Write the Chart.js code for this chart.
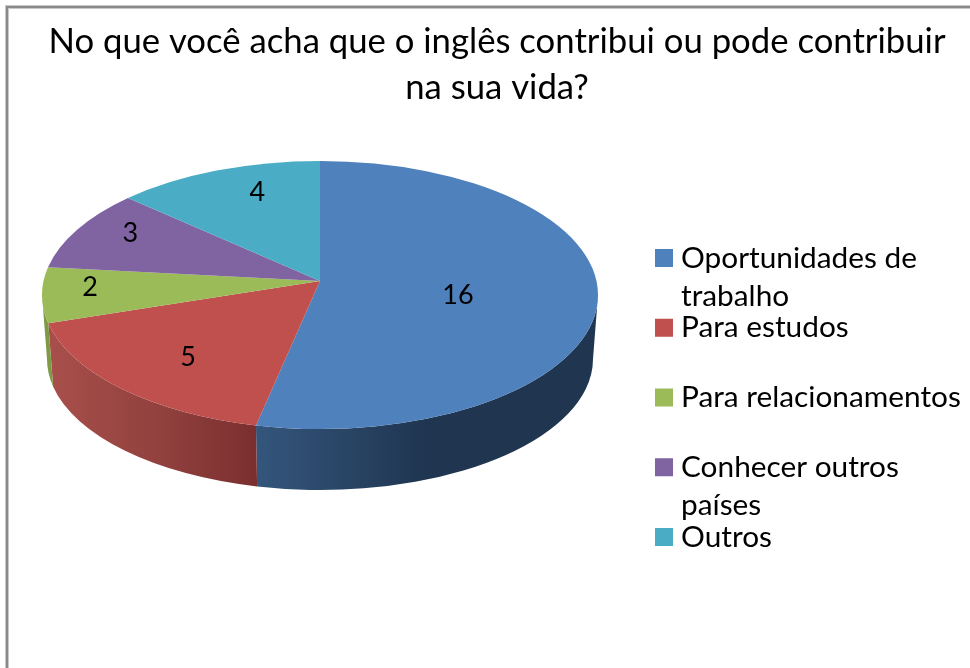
<!DOCTYPE html>
<html><head><meta charset="utf-8">
<style>html,body{margin:0;padding:0;background:#fff;overflow:hidden}canvas{display:block}</style>
<script src="https://cdn.jsdelivr.net/npm/chart.js@4/dist/chart.umd.min.js"></script>
</head><body><canvas id="c" width="970" height="668"></canvas>
<script>
const titleLines = ["No que você acha que o inglês contribui ou pode contribuir", "na sua vida?"];
const categories = [["Oportunidades de", "trabalho"], ["Para estudos"], ["Para relacionamentos"], ["Conhecer outros", "países"], ["Outros"]];
const values = [16, 5, 2, 3, 4];
const colors = ["#4F81BD", "#C0504D", "#9BBB59", "#8064A2", "#4BACC6"];
const wallStops = [
  [[0, "#34567c"], [0.5, "#1f3550"], [1, "#1f3550"]],
  [[0, "#a84f4b"], [0.5, "#93423f"], [1, "#7a2f2f"]],
  [[0, "#7f9a45"], [1, "#7f9a45"]],
  [[0, "#67508a"], [1, "#67508a"]],
  [[0, "#3a8ba0"], [1, "#3a8ba0"]]
];
const labelNudge = [[-56, 5], [5, 3], [-36, -3], [-18, -11], [11, -9]];
const FONT = "Lato, Carlito, sans-serif";

const ASPECT = 278 / 134, TILT = 14 / 134, BOTTOM_DY = 64 / 134, BOTTOM_RX = 273 / 278, BOTTOM_RY = 131 / 134;

function unitPoint(r, phi) {
  const x = r * Math.cos(phi), y = -r * Math.sin(phi), d = 1 + TILT * y;
  return [x * Math.sqrt(1 - TILT * TILT) / d, (y + TILT) / d];
}
function edgeAngle(phi) {
  const p = unitPoint(1, phi);
  let a = Math.atan2(-p[1], p[0]);
  while (a < -Math.PI / 2 - 1e-6) a += 2 * Math.PI;
  return a;
}

const piePlugin = {
  id: "tiltedPie",
  beforeDraw(chart) {
    const g = chart.ctx;
    g.save();
    g.fillStyle = "#fff"; g.fillRect(0, 0, chart.width, chart.height);
    g.fillStyle = "#c8c8c8"; g.fillRect(5, 5, 4, chart.height - 5); g.fillRect(5, 5, chart.width - 5, 4);
    g.fillStyle = "#8a8a8a"; g.fillRect(6, 6, 2, chart.height - 6); g.fillRect(6, 6, chart.width - 6, 2);
    g.fillStyle = "#fff"; g.fillRect(9, 9, chart.width - 9, chart.height - 9);
    g.restore();
  },
  beforeDatasetDraw(chart, args) {
    const g = chart.ctx, arcs = chart.getDatasetMeta(args.index).data;
    const R = arcs[0].outerRadius, cx = arcs[0].x, cy = arcs[0].y;
    const rx = R * ASPECT, ry = R, rx2 = rx * BOTTOM_RX, ry2 = R * BOTTOM_RY, cy2 = cy + R * BOTTOM_DY;
    g.save();
    arcs.forEach((arc, i) => {
      const a = Math.max(edgeAngle(arc.startAngle), 0), b = Math.min(edgeAngle(arc.endAngle), Math.PI);
      if (b <= a) return;
      const x0 = cx + rx * Math.cos(b), x1 = cx + rx * Math.cos(a);
      const grad = g.createLinearGradient(x0, 0, x1, 0);
      wallStops[i].forEach(s => grad.addColorStop(s[0], s[1]));
      g.fillStyle = grad;
      g.beginPath();
      g.ellipse(cx, cy, rx, ry, 0, a, b);
      g.ellipse(cx, cy2, rx2, ry2, 0, b, a, true);
      g.closePath();
      g.fill();
    });
    const apex = unitPoint(0, 0);
    arcs.forEach(arc => {
      g.fillStyle = arc.options.backgroundColor;
      g.beginPath();
      g.moveTo(cx, cy - apex[1] * ry);
      g.ellipse(cx, cy, rx, ry, 0, edgeAngle(arc.startAngle), edgeAngle(arc.endAngle));
      g.closePath();
      g.fill();
    });
    g.restore();
    return false;
  },
  afterDatasetsDraw(chart) {
    const g = chart.ctx, arcs = chart.getDatasetMeta(0).data;
    g.save();
    g.font = "27px " + FONT; g.fillStyle = "#000"; g.textAlign = "center"; g.textBaseline = "middle";
    arcs.forEach((arc, i) => {
      const p = unitPoint(0.7, (arc.startAngle + arc.endAngle) / 2);
      g.fillText(String(values[i]), arc.x + p[0] * arc.outerRadius * ASPECT + labelNudge[i][0], arc.y - p[1] * arc.outerRadius + labelNudge[i][1]);
    });
    g.restore();
  }
};

const legendBox = {
  position: "right", weight: 0, fullSize: false, options: {},
  isHorizontal() { return false; },
  update(w, h) { this.width = 354; this.height = h; return { width: 354, height: h }; },
  getPadding() { return { left: 0, right: 0, top: 0, bottom: 0 }; },
  draw() {
    const g = this.ctx;
    g.save();
    g.textBaseline = "middle"; g.textAlign = "left"; g.fillStyle = "#000";
    categories.forEach((lines, i) => {
      const y = 258 + 69.75 * i;
      g.fillStyle = colors[i];
      g.fillRect(this.left + 39, y - 9, 18, 18);
      g.fillStyle = "#000";
      g.font = "29.8px " + FONT;
      lines.forEach((t, k) => g.fillText(t, this.left + 65, y + k * 38));
    });
    g.restore();
  }
};

const chart = new Chart(document.getElementById("c"), {
  type: "pie",
  data: { labels: categories.map(l => l.join(" ")), datasets: [{ data: values, backgroundColor: colors, borderWidth: 0 }] },
  options: {
    responsive: false, animation: false, rotation: 0,
    layout: { padding: { left: 24, right: 0, top: 0, bottom: 239 } },
    plugins: {
      legend: { display: false }, tooltip: { enabled: false },
      title: { display: true, text: titleLines, color: "#000",
        font: { family: FONT, size: 34.7, weight: "normal", lineHeight: 46 / 34.7 },
        padding: { top: 19, bottom: 50 } }
    }
  },
  plugins: [piePlugin, {
    id: "legendBoxInstall",
    beforeInit(c) { legendBox.ctx = c.ctx; Chart.layouts.addBox(c, legendBox); }
  }]
});
</script></body></html>
